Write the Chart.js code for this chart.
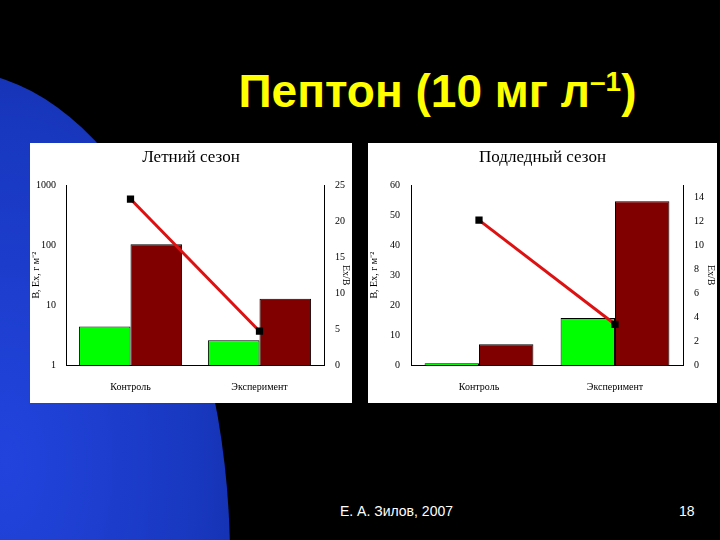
<!DOCTYPE html>
<html><head><meta charset="utf-8">
<script src="https://cdn.jsdelivr.net/npm/chart.js@4"></script>
<style>
body{margin:0;width:720px;height:540px;background:#000;position:relative;overflow:hidden;font-family:"Liberation Sans",Arial,sans-serif}
#blob{position:absolute;left:-330px;top:70px;width:560px;height:980px;border-radius:50%;background:radial-gradient(ellipse at 60% 40%,#2244dd 0%,#1838c0 40%,#0c2490 70%,#030c40 100%)}
#title{position:absolute;left:0;width:720px;top:64px;text-align:center;padding-left:155px;box-sizing:border-box;color:#ffff00;font-weight:bold;font-size:46px}
#title sup{font-size:28px}
.panel{position:absolute;background:#fff;top:143px;height:260px}
#p1{left:30px;width:322px}#p2{left:368px;width:349px}
.foot{position:absolute;top:503px;color:#fff;font-size:14px}
</style></head><body>
<div id="blob"></div>
<div id="title">Пептон (10 мг л<sup>–1</sup>)</div>
<div class="panel" id="p1"><canvas id="c1" width="322" height="260"></canvas></div>
<div class="panel" id="p2"><canvas id="c2" width="349" height="260"></canvas></div>
<div class="foot" style="left:340px">Е. А. Зилов, 2007</div>
<div class="foot" style="left:679px">18</div>
<script>
const categories=["Контроль","Эксперимент"];
const summerB=[4.4,2.6];
const summerEx=[104,12.8];
const summerRatio=[23.1,4.7];
const winterB=[0.6,15.7];
const winterEx=[6.9,54.7];
const winterRatio=[12.1,3.4];
const F={family:"'Liberation Serif','Times New Roman',serif",size:10};
function make(id,title,B,Ex,R,yopts,y1opts,wl,wr){
  new Chart(document.getElementById(id),{
    data:{labels:categories,datasets:[
      {type:'line',data:R,yAxisID:'y1',borderColor:'#dd1111',borderWidth:3,pointStyle:'rect',pointRadius:3,pointBackgroundColor:'#000',pointBorderColor:'#000',order:0},
      {type:'bar',data:B,yAxisID:'y',backgroundColor:'#00ff00',borderColor:'#000',borderWidth:1,categoryPercentage:0.8,barPercentage:1,order:1},
      {type:'bar',data:Ex,yAxisID:'y',backgroundColor:'#800000',borderColor:'#000',borderWidth:1,categoryPercentage:0.8,barPercentage:1,order:1}
    ]},
    options:{responsive:false,animation:false,layout:{padding:{left:0,right:0,bottom:2}},
      plugins:{legend:{display:false},tooltip:{enabled:false},
        title:{display:true,text:title,color:'#000',font:{family:F.family,size:17,weight:'normal'},padding:{top:4,bottom:18}}},
      scales:{
        x:{grid:{display:false},border:{color:'#000'},ticks:{color:'#000',font:F,padding:8}},
        y:Object.assign({position:'left',grid:{display:false},border:{color:'#000'},afterFit:s=>{s.width=wl;},
          title:{display:true,text:'В, Ех, г м⁻²',color:'#000',font:F,padding:0}},yopts),
        y1:Object.assign({position:'right',grid:{display:false},border:{color:'#000'},afterFit:s=>{s.width=wr;},
          title:{display:true,text:'Ex/B',color:'#000',font:F,padding:0}},y1opts)
      }}
  });
}
make('c1','Летний сезон',summerB,summerEx,summerRatio,
  {type:'logarithmic',min:1,max:1000,afterBuildTicks:a=>{a.ticks=[1,10,100,1000].map(v=>({value:v}));},ticks:{color:'#000',font:F,padding:2,callback:v=>String(v)}},
  {min:0,max:25,ticks:{color:'#000',font:F,stepSize:5}},36,28);
make('c2','Подледный сезон',winterB,winterEx,winterRatio,
  {min:0,max:60,ticks:{color:'#000',font:F,stepSize:10}},
  {min:0,max:15,afterBuildTicks:a=>{a.ticks=[0,2,4,6,8,10,12,14].map(v=>({value:v}));},ticks:{color:'#000',font:F}},43,34);
</script>
</body></html>
